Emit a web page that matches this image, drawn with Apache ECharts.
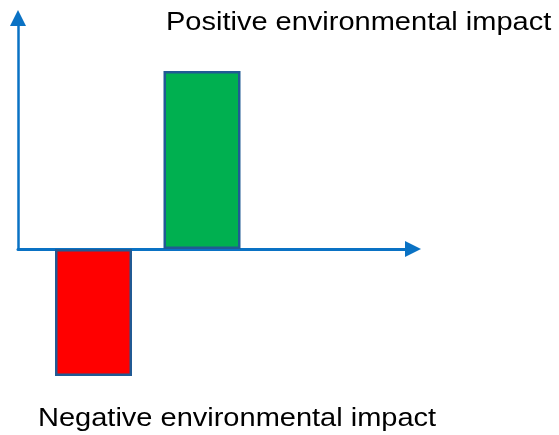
<!DOCTYPE html>
<html>
<head>
<meta charset="utf-8">
<script src="https://cdn.jsdelivr.net/npm/echarts@6/dist/echarts.min.js"></script>
<style>html,body{margin:0;padding:0;background:#fff;}#c{width:559px;height:435px;}</style>
</head>
<body>
<div id="c"></div>
<script>
const categories = ['Negative', 'Positive'];
const impactValues = [-5.5, 7.7];
const barColors = ['#FF0000', '#00B050'];
const labelTexts = ['Negative environmental impact', 'Positive environmental impact'];
const yRange = [-5.5, 10];

const chart = echarts.init(document.getElementById('c'), null, {renderer: 'canvas'});
const axisColor = '#0A72C4';
const fontFamily = '"Liberation Sans", Arial, sans-serif';

chart.setOption({
  animation: false,
  backgroundColor: '#ffffff',
  grid: [
    {left: 18, right: 146, top: 18, bottom: 186},
    {left: 39.25, width: 217, top: 18, bottom: 59}
  ],
  xAxis: [
    {
      gridIndex: 0, type: 'value', min: 0, max: 1,
      axisLine: {show: true, symbol: ['none', 'triangle'], symbolSize: [16, 16], lineStyle: {color: axisColor, width: 3}},
      axisTick: {show: false}, axisLabel: {show: false}, splitLine: {show: false}
    },
    {gridIndex: 1, type: 'category', data: categories, show: false}
  ],
  yAxis: [
    {
      gridIndex: 0, type: 'value', min: 0, max: 1,
      axisLine: {show: true, symbol: ['none', 'triangle'], symbolSize: [16, 16], lineStyle: {color: axisColor, width: 2.5}},
      axisTick: {show: false}, axisLabel: {show: false}, splitLine: {show: false}
    },
    {gridIndex: 1, type: 'value', min: yRange[0], max: yRange[1], show: false}
  ],
  series: [{
    type: 'bar',
    xAxisIndex: 1,
    yAxisIndex: 1,
    barWidth: 77,
    z: 1,
    data: impactValues.map((v, i) => ({
      value: v,
      itemStyle: {color: barColors[i], borderColor: '#215A94', borderWidth: 2.5}
    }))
  }],
  graphic: [
    {
      type: 'text', x: 166, y: 11, scaleX: 1.16,
      style: {text: labelTexts[1], font: '25px ' + fontFamily, fill: '#000', textAlign: 'left', textVerticalAlign: 'top'}
    },
    {
      type: 'text', x: 38, y: 407, scaleX: 1.16,
      style: {text: labelTexts[0], font: '25px ' + fontFamily, fill: '#000', textAlign: 'left', textVerticalAlign: 'top'}
    }
  ]
});
</script>
</body>
</html>
